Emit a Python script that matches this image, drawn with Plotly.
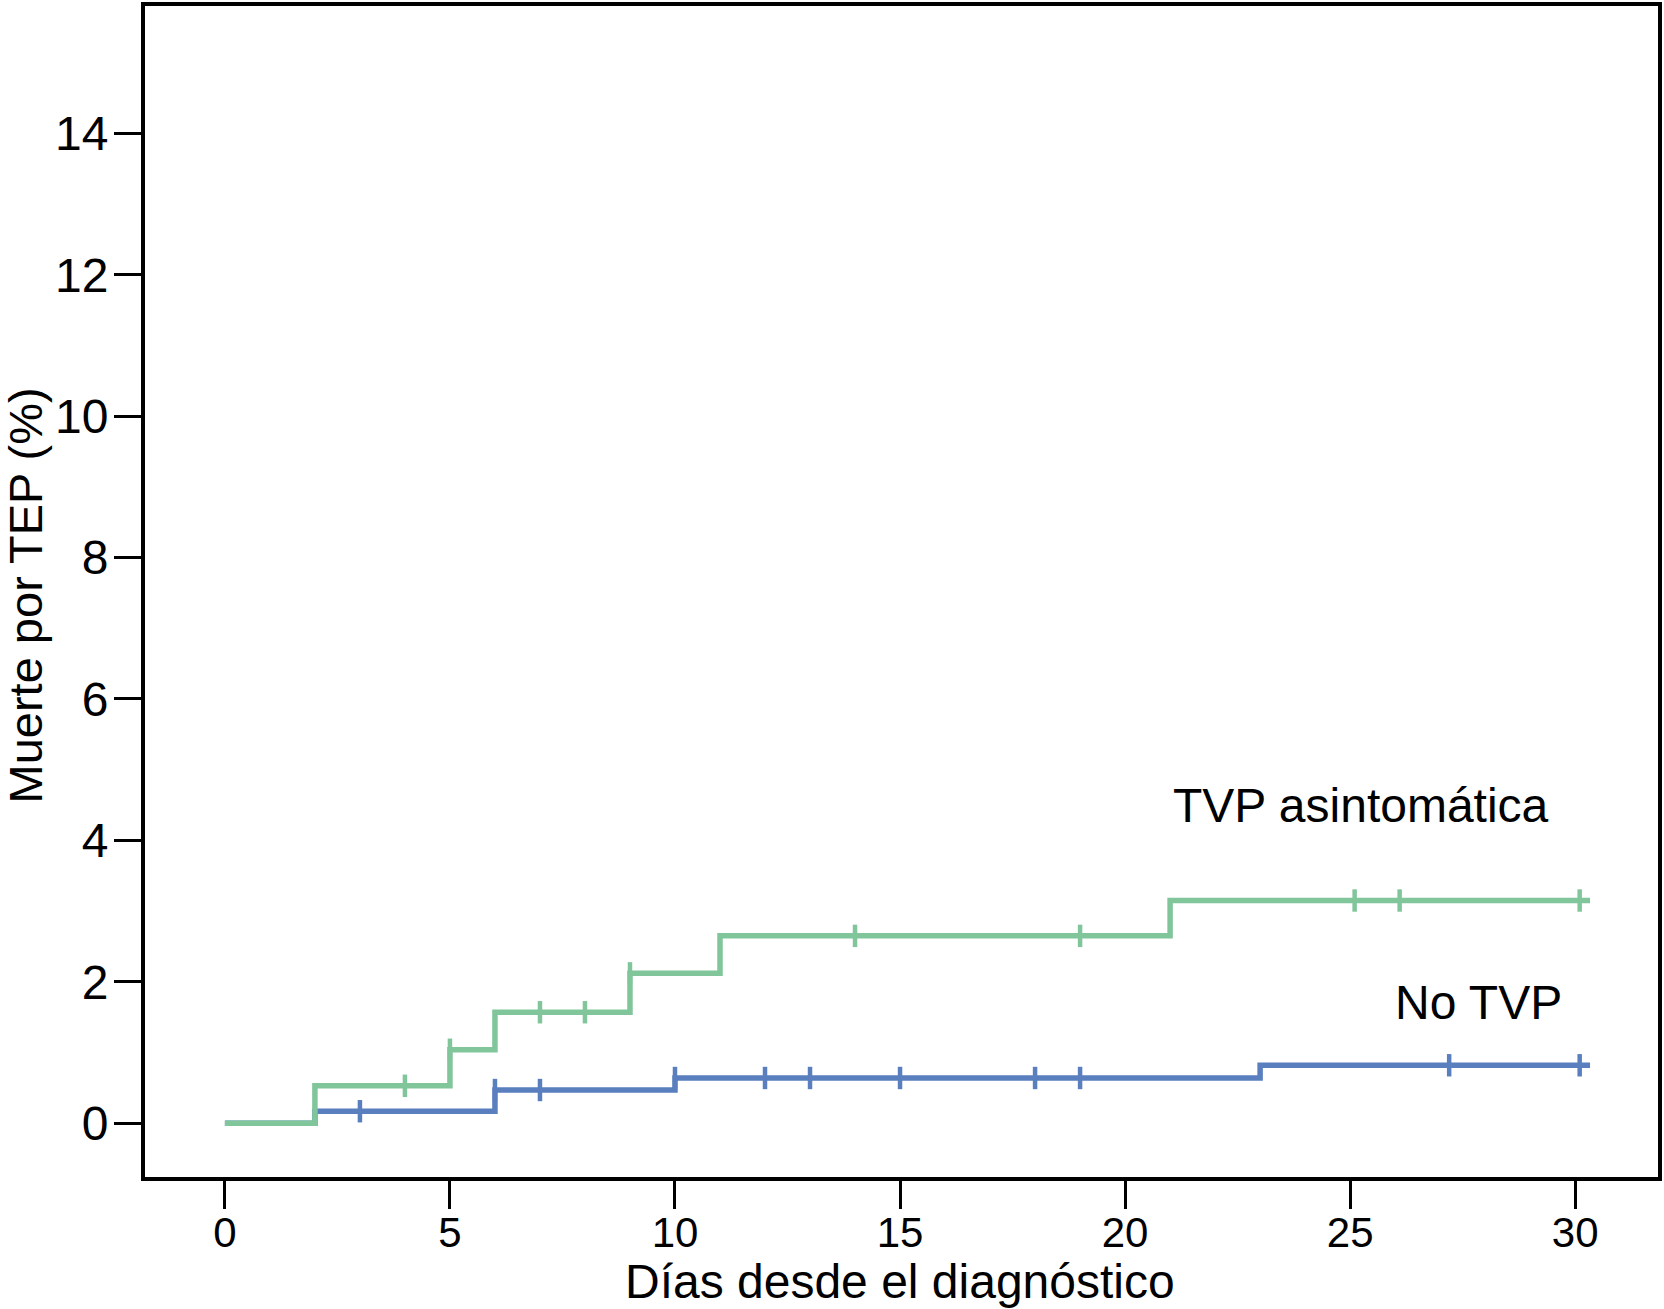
import plotly.graph_objects as go

# Kaplan-Meier style cumulative incidence (%) – step data
tvp_t = [0, 2, 5, 6, 9, 11, 21, 30.33]
tvp_y = [0, 0.53, 1.04, 1.57, 2.12, 2.65, 3.15, 3.15]
tvp_cens_t = [4, 5, 7, 8, 9, 14, 19, 25.1, 26.1, 30.1]
tvp_cens_y = [0.53, 1.04, 1.57, 1.57, 2.12, 2.65, 2.65, 3.15, 3.15, 3.15]

no_t = [0, 2, 6, 10, 23, 30.33]
no_y = [0, 0.17, 0.47, 0.64, 0.82, 0.82]
no_cens_t = [3, 6, 7, 10, 12, 13, 15, 18, 19, 27.2, 30.1]
no_cens_y = [0.17, 0.47, 0.47, 0.64, 0.64, 0.64, 0.64, 0.64, 0.64, 0.82, 0.82]

x_ticks = [0, 5, 10, 15, 20, 25, 30]
y_ticks = [0, 2, 4, 6, 8, 10, 12, 14]

GREEN = "#80c69a"
BLUE = "#5a7fbf"
FONT = "Liberation Sans, Arial, Helvetica, sans-serif"

fig = go.Figure()
fig.add_trace(go.Scatter(x=no_t, y=no_y, mode="lines", line=dict(color=BLUE, width=5.5, shape="hv"),
                         name="No TVP", showlegend=False))
fig.add_trace(go.Scatter(x=no_cens_t, y=no_cens_y, mode="markers",
                         marker=dict(symbol="line-ns", size=16, line=dict(color=BLUE, width=4.5)),
                         showlegend=False))
fig.add_trace(go.Scatter(x=tvp_t, y=tvp_y, mode="lines", line=dict(color=GREEN, width=5.5, shape="hv"),
                         name="TVP asintomática", showlegend=False))
fig.add_trace(go.Scatter(x=tvp_cens_t, y=tvp_cens_y, mode="markers",
                         marker=dict(symbol="line-ns", size=16, line=dict(color=GREEN, width=4.5)),
                         showlegend=False))

fig.add_annotation(x=21.03, y=4.5, xref="x", yref="y", text="TVP asintomática", showarrow=False,
                   xanchor="left", yanchor="middle", font=dict(family=FONT, size=48, color="black"))
fig.add_annotation(x=25.96, y=1.71, xref="x", yref="y", text="No TVP", showarrow=False,
                   xanchor="left", yanchor="middle", font=dict(family=FONT, size=48, color="black"))

fig.add_annotation(x=-0.079, y=0.497, xref="paper", yref="paper", text="Muerte por TEP (%)",
                   showarrow=False, textangle=-90, xanchor="center", yanchor="middle",
                   font=dict(family=FONT, size=47, color="black"))
fig.add_annotation(x=0.499, y=-0.089, xref="paper", yref="paper", text="Días desde el diagnóstico",
                   showarrow=False, xanchor="center", yanchor="middle",
                   font=dict(family=FONT, size=48, color="black"))

fig.update_layout(
    width=1664, height=1309,
    margin=dict(l=145, r=4, t=2, b=132),
    plot_bgcolor="white", paper_bgcolor="white",
    showlegend=False,
)
fig.update_xaxes(range=[-1.775, 31.84], tickvals=x_ticks, ticks="outside", ticklen=28, tickwidth=3,
                 tickcolor="black", showline=True, linecolor="black", linewidth=4, mirror=True,
                 showgrid=False, zeroline=False, ticklabelstandoff=-12,
                 tickfont=dict(family=FONT, size=42, color="black"))
fig.update_yaxes(range=[-0.76, 15.8], tickvals=y_ticks, ticks="outside", ticklen=27, tickwidth=3,
                 tickcolor="black", showline=True, linecolor="black", linewidth=4, mirror=True,
                 showgrid=False, zeroline=False, ticklabelstandoff=-4,
                 tickfont=dict(family=FONT, size=48, color="black"))

fig.write_html("out.html", config={"displayModeBar": False},
               post_script="document.body.style.margin='0';")
